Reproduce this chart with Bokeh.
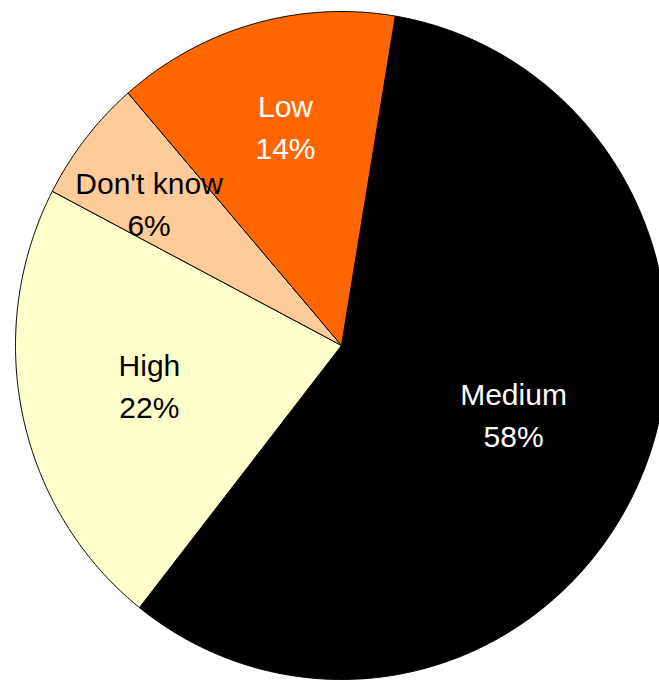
import numpy as np
from bokeh.plotting import figure
from bokeh.models import Range1d, ColumnDataSource
from bokeh.embed import file_html
from bokeh.resources import INLINE
from bokeh.core.properties import value

# Pie data, listed clockwise starting just right of twelve o'clock
categories = ["Medium", "High", "Don't know", "Low"]
shares = [58, 22, 6, 14]
colors = ["#000000", "#FFFFCC", "#FFCC99", "#FF6600"]
label_colors = ["#FFFFFF", "#000000", "#000000", "#FFFFFF"]

# Layout: where the pie sits in the frame (pixels) and label placement
W, H = 659, 680
CX, CY = 341, 345          # pie centre, px from left / top
RX, RY = 326, 334          # horizontal / vertical radius in px
START_DEG = 9.5            # first slice starts this far clockwise from top
label_radius = [0.568, 0.602, 0.726, 0.675]
label_nudge_deg = [-2.2, 0.3, -2.7, 0.95]
FONT = "Liberation Sans"
FONT_SIZE = "30px"
LINE_GAP = 21

# Unit circle in data space; the ranges stretch it to the pixel ellipse
x_range = Range1d(-CX / RX, (W - CX) / RX)
y_range = Range1d(-(H - CY) / RY, CY / RY)

p = figure(width=W, height=H, x_range=x_range, y_range=y_range,
           output_backend="svg", toolbar_location=None,
           x_axis_type=None, y_axis_type=None, min_border=0)
p.grid.visible = False
p.outline_line_color = None
p.background_fill_color = "white"
p.border_fill_color = "white"

total = float(sum(shares))
spans = [s / total * 360.0 for s in shares]
starts = np.cumsum([START_DEG] + spans[:-1])

xs, ys = [], []
for a0, span in zip(starts, spans):
    n = max(int(span * 3), 8)
    t = np.radians(np.linspace(a0, a0 + span, n))
    # clockwise angle from top -> x = sin, y = cos
    xs.append(np.concatenate([[0.0], np.sin(t), [0.0]]))
    ys.append(np.concatenate([[0.0], np.cos(t), [0.0]]))

src = ColumnDataSource(dict(xs=xs, ys=ys, fill=colors, cat=categories))
p.patches("xs", "ys", source=src, fill_color="fill", line_color="#000000",
          line_width=1)

mids = starts + np.array(spans) / 2 + np.array(label_nudge_deg)
lx = np.array(label_radius) * np.sin(np.radians(mids))
ly = np.array(label_radius) * np.cos(np.radians(mids))
pct = [f"{s:d}%" for s in shares]

lab = ColumnDataSource(dict(x=lx, y=ly, name=categories, pct=pct,
                            color=label_colors))
p.text("x", "y", text="name", source=lab, text_color="color",
       text_font=value(FONT), text_font_size=value(FONT_SIZE),
       text_align="center", text_baseline="middle", y_offset=-LINE_GAP)
p.text("x", "y", text="pct", source=lab, text_color="color",
       text_font=value(FONT), text_font_size=value(FONT_SIZE),
       text_align="center", text_baseline="middle", y_offset=LINE_GAP)

open("out.html", "w").write(file_html(p, INLINE))
